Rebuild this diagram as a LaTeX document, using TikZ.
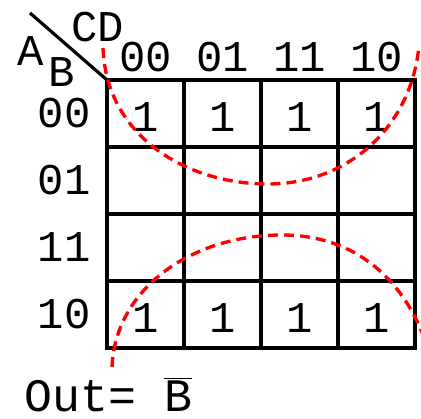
\documentclass[tikz,border=0pt]{standalone}
\usepackage{fontspec}
\newfontfamily\kmapfont{Liberation Mono}
\usetikzlibrary{positioning}

\begin{document}
\begin{tikzpicture}[x=0.02cm, y=-0.02cm,
    cell/.style={rectangle, draw, line width=2pt, minimum width=1.54cm, minimum height=1.34cm, inner sep=0pt, outer sep=0pt, text height=20pt, font=\kmapfont\fontsize{25}{30}\selectfont},
    lbl/.style={inner sep=0pt, font=\kmapfont\fontsize{25}{30}\selectfont},
    loop/.style={red, line width=1.9pt, dash pattern=on 0.2cm off 0.12cm}]
    \useasboundingbox (0,0) rectangle (421,418);

    % Map cells, row AB = 00
    \node (k11) [cell] at (145.5,113.5) {1};
    \node (k12) [cell, right=0pt of k11] {1};
    \node (k13) [cell, right=0pt of k12] {1};
    \node (k14) [cell, right=0pt of k13] {1};
    % row AB = 01
    \node (k21) [cell, below=0pt of k11] {};
    \node (k22) [cell, right=0pt of k21] {};
    \node (k23) [cell, right=0pt of k22] {};
    \node (k24) [cell, right=0pt of k23] {};
    % row AB = 11
    \node (k31) [cell, below=0pt of k21] {};
    \node (k32) [cell, right=0pt of k31] {};
    \node (k33) [cell, right=0pt of k32] {};
    \node (k34) [cell, right=0pt of k33] {};
    % row AB = 10
    \node (k41) [cell, below=0pt of k31] {1};
    \node (k42) [cell, right=0pt of k41] {1};
    \node (k43) [cell, right=0pt of k42] {1};
    \node (k44) [cell, right=0pt of k43] {1};

    % Column labels (CD)
    \node (cd1) [lbl, above=0.16cm of k11] {00};
    \node (cd2) [lbl, above=0.16cm of k12] {01};
    \node (cd3) [lbl, above=0.16cm of k13] {11};
    \node (cd4) [lbl, above=0.16cm of k14] {10};

    % Row labels (AB)
    \node (ab1) [lbl, left=0.32cm of k11] {00};
    \node (ab2) [lbl, left=0.32cm of k21] {01};
    \node (ab3) [lbl, left=0.32cm of k31] {11};
    \node (ab4) [lbl, left=0.32cm of k41] {10};

    % Corner
    \coordinate (slash) at (30,13);
    \draw [line width=1.8pt] (slash) -- (k11.north west);
    \node (cd) [lbl] at (98,27) {CD};
    \node (a) [lbl] at (31,51) {A};
    \node (b) [lbl] at (62,72) {B};

    % Groups
    \draw [loop] (103,48) .. controls (106,135) and (185,184) .. (268,184)
                          .. controls (350,184) and (412,125) .. (419,45);
    \draw [loop] (112,367) .. controls (115,290) and (190,235) .. (282,235)
                           .. controls (360,235) and (405,285) .. (425,340);

    % Result
    \node (out) [lbl, anchor=base west, font=\kmapfont\fontsize{26.5}{30}\selectfont] at (24,411) {Out= $\overline{\hbox{B}}$};
\end{tikzpicture}
\end{document}
